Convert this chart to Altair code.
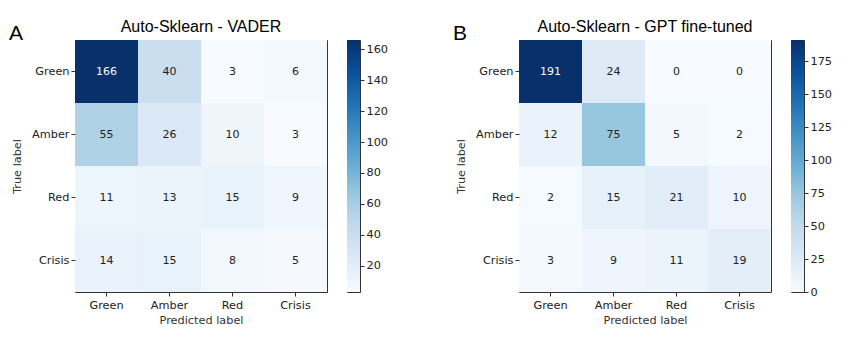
import altair as alt
import pandas as pd

classes = ["Green", "Amber", "Red", "Crisis"]
vader = [[166, 40, 3, 6],
         [55, 26, 10, 3],
         [11, 13, 15, 9],
         [14, 15, 8, 5]]
gpt = [[191, 24, 0, 0],
       [12, 75, 5, 2],
       [2, 15, 21, 10],
       [3, 9, 11, 19]]
ticks_a = [20, 40, 60, 80, 100, 120, 140, 160]
ticks_b = [0, 25, 50, 75, 100, 125, 150, 175]

blues = ["#f7fbff", "#deebf7", "#c6dbef", "#9ecae1", "#6baed6",
         "#4292c6", "#2171b5", "#08519c", "#08306b"]

SIZE = 252
LAB_FONT = "DejaVu Sans"


def frame(m):
    rows = []
    for i, t in enumerate(classes):
        for j, p in enumerate(classes):
            rows.append({"true": t, "pred": p, "v": m[i][j]})
    return pd.DataFrame(rows)


def panel(m, title, letter, ticks):
    df = frame(m)
    flat = [v for r in m for v in r]
    vmin, vmax = min(flat), max(flat)
    n = len(blues) - 1
    dom = [vmin + (vmax - vmin) * k / n for k in range(n + 1)]
    cscale = alt.Scale(domain=dom, range=blues, interpolate="rgb")
    thresh = (vmin + vmax) / 2

    x = alt.X("pred:N", sort=classes, title="Predicted label",
              scale=alt.Scale(paddingInner=0, paddingOuter=0),
              axis=alt.Axis(labelAngle=0, titlePadding=4, labelPadding=3))
    y = alt.Y("true:N", sort=classes, title="True label",
              scale=alt.Scale(paddingInner=0, paddingOuter=0),
              axis=alt.Axis(titlePadding=9, labelPadding=2))

    base = alt.Chart(df)
    rect = base.mark_rect().encode(
        x=x, y=y, color=alt.Color("v:Q", scale=cscale, legend=None))
    txt = base.mark_text(font=LAB_FONT, fontSize=11).encode(
        x=x, y=y, text="v:Q",
        color=alt.condition(alt.datum.v > thresh, alt.value("#f7fbff"),
                            alt.value("#222222")))
    lab = alt.Chart(pd.DataFrame({"t": [letter]})).mark_text(
        align="left", baseline="alphabetic", font="Liberation Sans",
        fontSize=21, color="black").encode(
        x=alt.value(-66), y=alt.value(0), text="t:N")
    ttl = alt.Chart(pd.DataFrame({"t": [title]})).mark_text(
        align="center", baseline="alphabetic", font="Liberation Sans",
        fontSize=16, color="black").encode(
        x=alt.value(SIZE / 2), y=alt.value(-8), text="t:N")

    heat = alt.layer(rect, txt, lab, ttl).properties(
        width=SIZE, height=SIZE)

    cb_df = pd.DataFrame({"lo": [vmin], "hi": [vmax]})
    grad = alt.Gradient(
        gradient="linear", x1=0, x2=0, y1=1, y2=0,
        stops=[alt.GradientStop(offset=k / n, color=c)
               for k, c in enumerate(blues)])
    cbar = alt.Chart(cb_df).mark_rect(fill=grad).encode(
        y=alt.Y("lo:Q", scale=alt.Scale(domain=[vmin, vmax], nice=False,
                                        zero=False),
                axis=alt.Axis(orient="right", values=ticks, title=None,
                              grid=False, labelPadding=2, tickSize=4)),
        y2="hi:Q",
        x=alt.value(0), x2=alt.value(13),
    ).properties(width=13, height=SIZE)

    return alt.hconcat(heat, cbar, spacing=18).resolve_scale(
        color="independent", y="independent")


chart = alt.hconcat(
    panel(vader, "Auto-Sklearn - VADER", "A", ticks_a),
    panel(gpt, "Auto-Sklearn - GPT fine-tuned", "B", ticks_b),
    spacing=63,
).resolve_scale(
    color="independent", x="independent", y="independent"
).properties(
    padding={"left": 8, "top": 18, "right": 5, "bottom": 5},
    background="white",
).configure_view(
    stroke="#333333", strokeWidth=1
).configure_axis(
    labelFont=LAB_FONT, labelFontSize=11.3, labelColor="#222222",
    titleFont=LAB_FONT, titleFontSize=11.3, titleFontWeight="normal",
    titleColor="#333333", tickColor="#333333", tickSize=4, domain=False,
    grid=False,
)

chart.save("out.html", embed_options={"renderer": "svg", "actions": False})
